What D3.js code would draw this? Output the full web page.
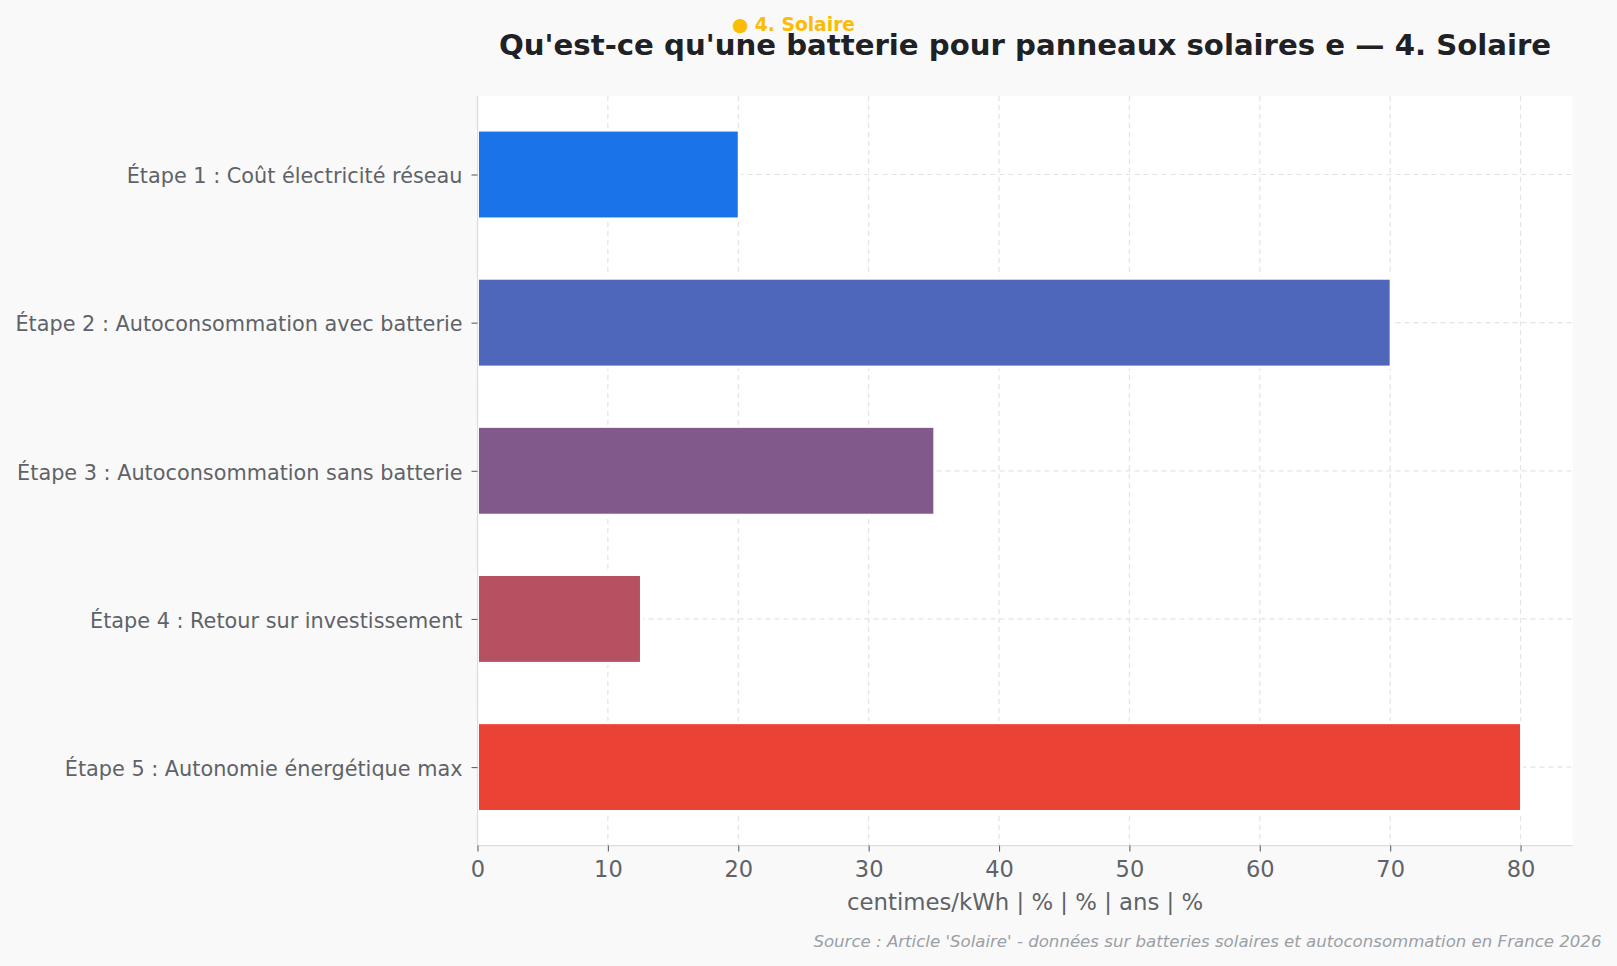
<!DOCTYPE html>
<html><head><meta charset="utf-8">
<script src="https://cdn.jsdelivr.net/npm/d3@7"></script>
<style>html,body{margin:0;padding:0;background:#f9f9f9;}svg{display:block;font-family:"DejaVu Sans",sans-serif;}</style>
</head><body>
<svg id="c" width="1617" height="966"></svg>
<script>
const categories = [
  "Étape 1 : Coût électricité réseau",
  "Étape 2 : Autoconsommation avec batterie",
  "Étape 3 : Autoconsommation sans batterie",
  "Étape 4 : Retour sur investissement",
  "Étape 5 : Autonomie énergétique max"
];
const values = [20, 70, 35, 12.5, 80];
const colors = ["#1a73e8", "#4e67bb", "#815a8b", "#b55161", "#ea4335"];
const xTicks = [0, 10, 20, 30, 40, 50, 60, 70, 80];
const title = "Qu'est-ce qu'une batterie pour panneaux solaires e — 4. Solaire";
const badge = "● 4. Solaire";
const xLabel = "centimes/kWh | % | % | ans | %";
const source = "Source : Article 'Solaire' - données sur batteries solaires et autoconsommation en France 2026";

const svg = d3.select("#c");
const L = 477.5, R = 1572.7, T = 96, B = 845.6;
const barH = 0.6;
const x = d3.scaleLinear().domain([0, 84]).range([L, R]);
const y = d3.scaleLinear().domain([-0.53, categories.length - 1 + 0.53]).range([T, B]);

svg.append("rect").attr("x", 0).attr("y", 0).attr("width", 1617).attr("height", 966).attr("fill", "#f9f9f9");
svg.append("rect").attr("x", L).attr("y", T).attr("width", R - L).attr("height", B - T).attr("fill", "#ffffff");

// grid
const g = svg.append("g");
g.selectAll(".vg").data(xTicks).enter().append("line")
  .attr("x1", d => x(d)).attr("x2", d => x(d)).attr("y1", T).attr("y2", B)
  .attr("stroke", "#e3e3e3").attr("stroke-width", 1.2).attr("stroke-dasharray", "5,4");
g.selectAll(".hg").data(categories).enter().append("line")
  .attr("x1", L).attr("x2", R).attr("y1", (d, i) => y(i)).attr("y2", (d, i) => y(i))
  .attr("stroke", "#e3e3e3").attr("stroke-width", 1.2).attr("stroke-dasharray", "5,4");

// bars (white edge)
svg.selectAll(".bar").data(values).enter().append("rect")
  .attr("x", x(0))
  .attr("y", (d, i) => y(i - barH / 2))
  .attr("width", d => x(d) - x(0) + 1)
  .attr("height", y(barH) - y(0))
  .attr("fill", (d, i) => colors[i])
  .attr("stroke", "#ffffff").attr("stroke-width", 3);

// spines
svg.append("line").attr("x1", L).attr("x2", L).attr("y1", T).attr("y2", B).attr("stroke", "#dddddd").attr("stroke-width", 1.3);
svg.append("line").attr("x1", L).attr("x2", R).attr("y1", B).attr("y2", B).attr("stroke", "#dddddd").attr("stroke-width", 1.3);

// x axis
const xa = svg.append("g").attr("transform", `translate(0,${B})`)
  .call(d3.axisBottom(x).tickValues(xTicks).tickSize(6).tickPadding(9).tickFormat(d3.format("d")));
xa.select(".domain").remove();
xa.selectAll(".tick line").attr("stroke", "#5f6368").attr("stroke-width", 1.1);
xa.selectAll(".tick text").attr("fill", "#5f6368").attr("font-size", "22.5px").attr("font-family", "DejaVu Sans");

// y axis
const ya = svg.append("g").attr("transform", `translate(${L},0)`)
  .call(d3.axisLeft(y).tickValues(d3.range(categories.length)).tickSize(6).tickPadding(9).tickFormat(i => categories[i]));
ya.select(".domain").remove();
ya.selectAll(".tick line").attr("stroke", "#5f6368").attr("stroke-width", 1.1);
ya.selectAll(".tick text").attr("fill", "#5f6368").attr("font-size", "20.8px").attr("font-family", "DejaVu Sans").attr("dy", "0.4em");

// labels
svg.append("text").attr("x", (L + R) / 2).attr("y", 910).attr("text-anchor", "middle")
  .attr("fill", "#5f6368").attr("font-size", "22.8px").text(xLabel);
svg.append("text").attr("x", (L + R) / 2).attr("y", 55).attr("text-anchor", "middle")
  .attr("fill", "#202124").attr("font-size", "29.2px").attr("font-weight", "bold").text(title);
svg.append("text").attr("x", 732).attr("y", 31).attr("text-anchor", "start")
  .attr("fill", "#fbbc04").attr("font-size", "18.7px").attr("font-weight", "bold").text(badge);
svg.append("text").attr("x", 1601.5).attr("y", 947).attr("text-anchor", "end")
  .attr("fill", "#9aa0a6").attr("font-size", "16.6px").attr("font-style", "italic").text(source);
</script>
</body></html>
